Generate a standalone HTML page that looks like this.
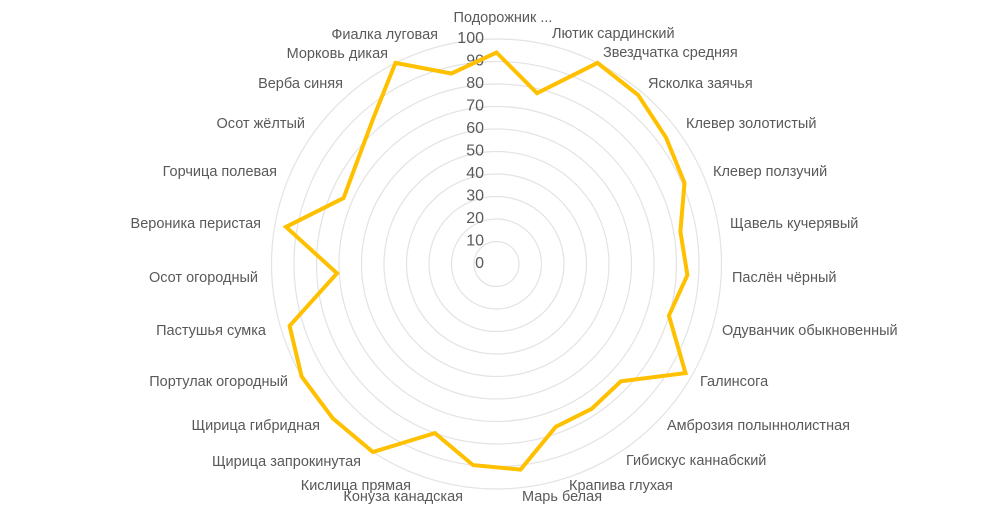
<!DOCTYPE html>
<html><head><meta charset="utf-8"><style>
html,body{margin:0;padding:0;background:#fff;}
svg{display:block;}
text{font-family:"Liberation Sans",sans-serif;fill:#595959;}
.l{font-size:14.5px;dominant-baseline:middle;}
.t{font-size:16px;text-anchor:end;dominant-baseline:middle;}
</style></head><body>
<svg width="1000" height="520" viewBox="0 0 1000 520">
<g fill="none" stroke="#e3e3e3" stroke-width="1.2">
<circle cx="496.5" cy="264" r="22.5"/><circle cx="496.5" cy="264" r="45"/><circle cx="496.5" cy="264" r="67.5"/><circle cx="496.5" cy="264" r="90"/><circle cx="496.5" cy="264" r="112.5"/><circle cx="496.5" cy="264" r="135"/><circle cx="496.5" cy="264" r="157.5"/><circle cx="496.5" cy="264" r="180"/><circle cx="496.5" cy="264" r="202.5"/><circle cx="496.5" cy="264" r="225"/>
</g>
<g class="tk">
<text class="t" x="484" y="264">0</text>
<text class="t" x="484" y="241.5">10</text>
<text class="t" x="484" y="219">20</text>
<text class="t" x="484" y="196.5">30</text>
<text class="t" x="484" y="174">40</text>
<text class="t" x="484" y="151.5">50</text>
<text class="t" x="484" y="129">60</text>
<text class="t" x="484" y="106.5">70</text>
<text class="t" x="484" y="84">80</text>
<text class="t" x="484" y="61.5">90</text>
<text class="t" x="484" y="39">100</text>
</g>
<polygon fill="none" stroke="#FFC000" stroke-width="4" stroke-linejoin="miter" points="496.5,52.5 537,93.2 597.5,62.9 638.2,95.1 666.1,137.7 684.5,182.9 680.4,231.6 687.4,275.1 668.9,315.6 685.5,373.1 620.9,381.3 591.7,408.8 555.7,426.8 520.5,469.6 473,465.1 434.9,433.1 372.9,452 332.8,418.4 301.6,376.5 289.6,325.9 337,273.3 286,226.9 343.6,198.1 357.5,160.5 373.6,117.5 395.5,62.9 451.4,73.5"/>
<g class="l">
<text class="l" x="503" y="18" text-anchor="middle">Подорожник ...</text>
<text class="l" x="552" y="34">Лютик сардинский</text>
<text class="l" x="603" y="53">Звездчатка средняя</text>
<text class="l" x="648" y="84">Ясколка заячья</text>
<text class="l" x="686" y="124">Клевер золотистый</text>
<text class="l" x="713" y="172">Клевер ползучий</text>
<text class="l" x="730" y="224">Щавель кучерявый</text>
<text class="l" x="732" y="278">Паслён чёрный</text>
<text class="l" x="722" y="331">Одуванчик обыкновенный</text>
<text class="l" x="700" y="382">Галинсога</text>
<text class="l" x="667" y="426">Амброзия полыннолистная</text>
<text class="l" x="626" y="461">Гибискус каннабский</text>
<text class="l" x="569" y="486">Крапива глухая</text>
<text class="l" x="522" y="497">Марь белая</text>
<text class="l" x="463" y="497" text-anchor="end">Конуза канадская</text>
<text class="l" x="411" y="486" text-anchor="end">Кислица прямая</text>
<text class="l" x="361" y="462" text-anchor="end">Щирица запрокинутая</text>
<text class="l" x="320" y="426" text-anchor="end">Щирица гибридная</text>
<text class="l" x="288" y="382" text-anchor="end">Портулак огородный</text>
<text class="l" x="266" y="331" text-anchor="end">Пастушья сумка</text>
<text class="l" x="258" y="278" text-anchor="end">Осот огородный</text>
<text class="l" x="261" y="224" text-anchor="end">Вероника перистая</text>
<text class="l" x="277" y="172" text-anchor="end">Горчица полевая</text>
<text class="l" x="305" y="124" text-anchor="end">Осот жёлтый</text>
<text class="l" x="343" y="84" text-anchor="end">Верба синяя</text>
<text class="l" x="388" y="54" text-anchor="end">Морковь дикая</text>
<text class="l" x="438" y="35" text-anchor="end">Фиалка луговая</text>
</g>
</svg>
</body></html>
